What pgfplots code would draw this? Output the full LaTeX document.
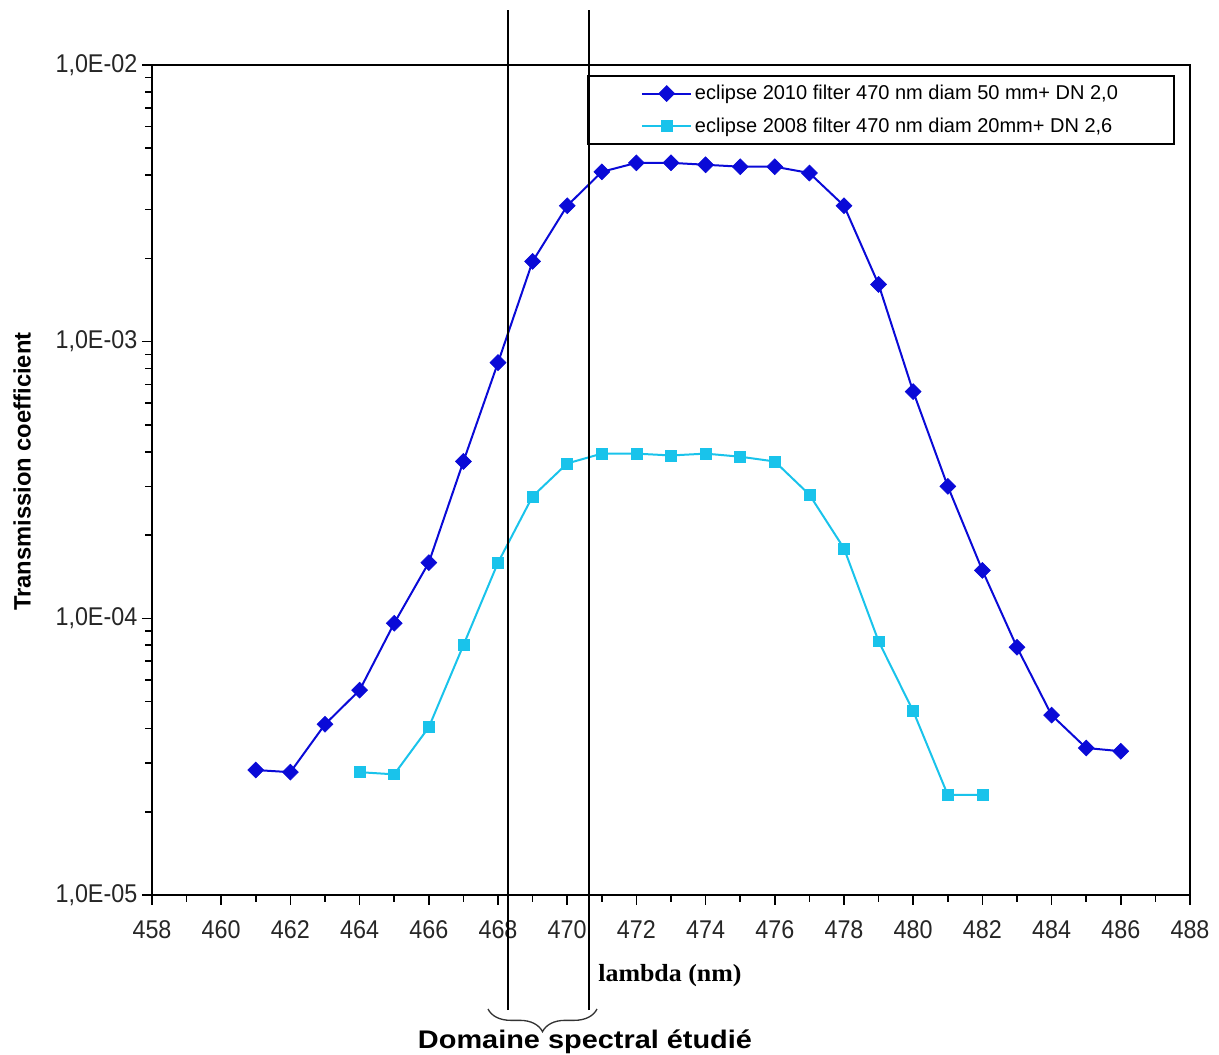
\documentclass[border=0pt]{standalone}
\usepackage{pgfplots}
\pgfplotsset{compat=1.18}
\usepackage{fontspec}
\setmainfont{Liberation Sans}
\newfontfamily\serifb{Liberation Serif}
\usetikzlibrary{decorations.pathreplacing}
\definecolor{dblue}{RGB}{10,10,215}
\definecolor{lcyan}{RGB}{25,195,235}
\begin{document}
\begin{tikzpicture}
\begin{axis}[
  scale only axis,
  width=778.5pt, height=622.5pt,
  xmin=458, xmax=488,
  ymode=log, ymin=1e-5, ymax=1e-2,
  xtick distance=2, minor x tick num=1,
  ytick={1e-5,1e-4,1e-3,1e-2},
  yticklabels={{1,0E-05},{1,0E-04},{1,0E-03},{1,0E-02}},
  /pgf/number format/assume math mode=true,
  xticklabel style={font=\fontsize{17.5}{20}\selectfont, color=black!85, yshift=-8pt, yscale=1.1},
  yticklabel style={font=\fontsize{17.5}{20}\selectfont, color=black!85, yscale=1.1},
  tick align=outside,
  xtick pos=bottom, ytick pos=left,
  major tick length=7.5pt, minor tick length=5pt,
  every tick/.style={black, line width=1.2pt},
  axis line style={line width=2pt},
  xlabel={\serifb\bfseries lambda (nm)},
  xlabel style={at={(axis description cs:0.499,-0.0965)}, anchor=center, font=\fontsize{18.5}{20}\selectfont, xscale=1.05},
  ylabel={\bfseries Transmission coefficient},
  ylabel style={at={(axis description cs:-0.125,0.51)}, anchor=center, rotate=0, font=\fontsize{17.8}{20}\selectfont},
  legend style={at={(rel axis cs:0.9855,0.988)}, anchor=north east, draw=black, line width=1.5pt,
    font=\fontsize{15}{18}\selectfont, inner xsep=40pt, inner ysep=5pt, row sep=8pt},
  legend cell align=left,
  legend image code/.code={\draw[mark repeat=2,mark phase=2] plot coordinates {(0cm,0cm) (0.65cm,0cm) (1.3cm,0cm)};},
  clip=false,
]
\addplot[color=dblue, line width=1.5pt, mark=square*, mark size=4.2pt, mark options={rotate=45, fill=dblue, line width=0.5pt}]
  coordinates {
  (461,2.83e-5) (462,2.78e-5) (463,4.14e-5) (464,5.5e-5) (465,9.6e-5)
  (466,1.59e-4) (467,3.69e-4) (468,8.4e-4) (469,1.95e-3) (470,3.10e-3)
  (471,4.11e-3) (472,4.43e-3) (473,4.43e-3) (474,4.36e-3) (475,4.29e-3)
  (476,4.29e-3) (477,4.07e-3) (478,3.10e-3) (479,1.61e-3) (480,6.6e-4)
  (481,3.0e-4) (482,1.49e-4) (483,7.86e-5) (484,4.47e-5) (485,3.4e-5) (486,3.31e-5)
  };
\addlegendentry{eclipse 2010 filter 470 nm diam 50 mm+ DN 2,0}
\addplot[color=lcyan, line width=1.5pt, mark=square*, mark size=4.1pt, mark options={fill=lcyan, line width=0.5pt}]
  coordinates {
  (464,2.78e-5) (465,2.73e-5) (466,4.04e-5) (467,8.0e-5) (468,1.59e-4)
  (469,2.76e-4) (470,3.63e-4) (471,3.94e-4) (472,3.94e-4) (473,3.88e-4)
  (474,3.94e-4) (475,3.84e-4) (476,3.69e-4) (477,2.8e-4) (478,1.79e-4)
  (479,8.26e-5) (480,4.62e-5) (481,2.30e-5) (482,2.30e-5)
  };
\addlegendentry{eclipse 2008 filter 470 nm diam 20mm+ DN 2,6}
\end{axis}
\draw[line width=1pt] (267pt,-86.25pt) -- (267pt,663.75pt);
\draw[line width=1pt] (327.75pt,-86.25pt) -- (327.75pt,663.75pt);
\draw[line width=1pt, black!80, decorate, decoration={brace, mirror, amplitude=17pt}] (252pt,-85.5pt) -- (333.75pt,-85.5pt);
\node[anchor=base, inner sep=0pt] at (324.75pt,-114.75pt) {\resizebox{250.5pt}{14pt}{\bfseries Domaine spectral étudié}};
\pgfresetboundingbox
\path[use as bounding box] (-114pt,-119.25pt) rectangle (800.25pt,671.25pt);
\end{tikzpicture}
\end{document}
